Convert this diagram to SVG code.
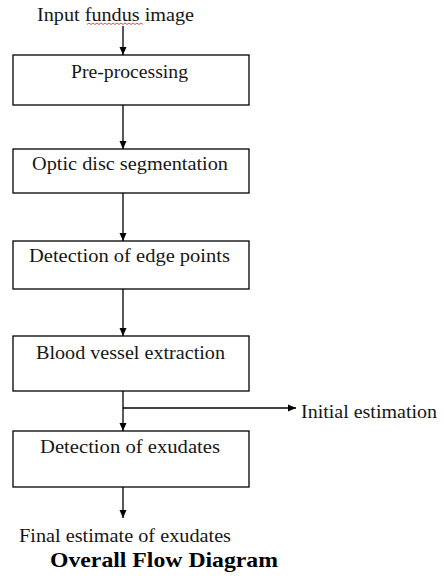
<svg xmlns="http://www.w3.org/2000/svg" width="444" height="583" viewBox="0 0 444 583">
<defs>
<marker id="ah" markerWidth="8" markerHeight="8" refX="8" refY="4" orient="auto" markerUnits="userSpaceOnUse">
<path d="M0,0.5 L8,4 L0,7.5 Z" fill="#000"/>
</marker>
<style>
.box{fill:#fff;stroke:#000;stroke-width:1.3}
.t{font-family:"Liberation Serif","Times New Roman",serif;font-size:18.5px;fill:#161616}
.c{stroke:#000;stroke-width:1.3;fill:none}
.title{font-family:"Liberation Serif","Times New Roman",serif;font-size:22px;font-weight:bold;fill:#000}
</style>
</defs>
<rect width="444" height="583" fill="#fff"/>
<text class="t" x="37" y="21" textLength="157" lengthAdjust="spacingAndGlyphs">Input fundus image</text>
<polyline points="87,24.5 89,23 91,24.5 93,23 95,24.5 97,23 99,24.5 101,23 103,24.5 105,23 107,24.5 109,23 111,24.5 113,23 115,24.5 117,23 119,24.5 121,23 123,24.5 125,23 127,24.5 129,23 131,24.5 133,23 135,24.5 137,23 139,24.5 141,23 143,24.5" fill="none" stroke="#e02020" stroke-width="0.8"/>
<g id="connectors">
<line class="c" x1="123" y1="26" x2="123" y2="55" marker-end="url(#ah)"/>
<line class="c" x1="123" y1="105" x2="123" y2="149" marker-end="url(#ah)"/>
<line class="c" x1="123" y1="193" x2="123" y2="241" marker-end="url(#ah)"/>
<line class="c" x1="123" y1="289" x2="123" y2="336" marker-end="url(#ah)"/>
<line class="c" x1="123" y1="391" x2="123" y2="431" marker-end="url(#ah)"/>
<line class="c" x1="123" y1="408" x2="296" y2="408" marker-end="url(#ah)"/>
<line class="c" x1="123" y1="487" x2="123" y2="518" marker-end="url(#ah)"/>
</g>
<g id="preprocessing">
<rect class="box" x="13" y="55" width="236" height="50"/>
<text class="t" x="71" y="78" textLength="117" lengthAdjust="spacingAndGlyphs">Pre-processing</text>
</g>
<g id="optic">
<rect class="box" x="13" y="149" width="236" height="44"/>
<text class="t" x="32" y="170" textLength="196" lengthAdjust="spacingAndGlyphs">Optic disc segmentation</text>
</g>
<g id="edge">
<rect class="box" x="13" y="241" width="236" height="48"/>
<text class="t" x="29" y="262" textLength="201" lengthAdjust="spacingAndGlyphs">Detection of edge points</text>
</g>
<g id="vessel">
<rect class="box" x="13" y="336" width="236" height="55"/>
<text class="t" x="36" y="359" textLength="189" lengthAdjust="spacingAndGlyphs">Blood vessel extraction</text>
</g>
<g id="initial">
<text class="t" x="301" y="418" textLength="136" lengthAdjust="spacingAndGlyphs">Initial estimation</text>
</g>
<g id="exudates">
<rect class="box" x="13" y="431" width="236" height="56"/>
<text class="t" x="40" y="453" textLength="180" lengthAdjust="spacingAndGlyphs">Detection of exudates</text>
</g>
<g id="final">
<text class="t" x="19" y="542" textLength="212" lengthAdjust="spacingAndGlyphs">Final estimate of exudates</text>
</g>
<text class="title" x="50" y="567" textLength="228" lengthAdjust="spacingAndGlyphs">Overall Flow Diagram</text>
</svg>
